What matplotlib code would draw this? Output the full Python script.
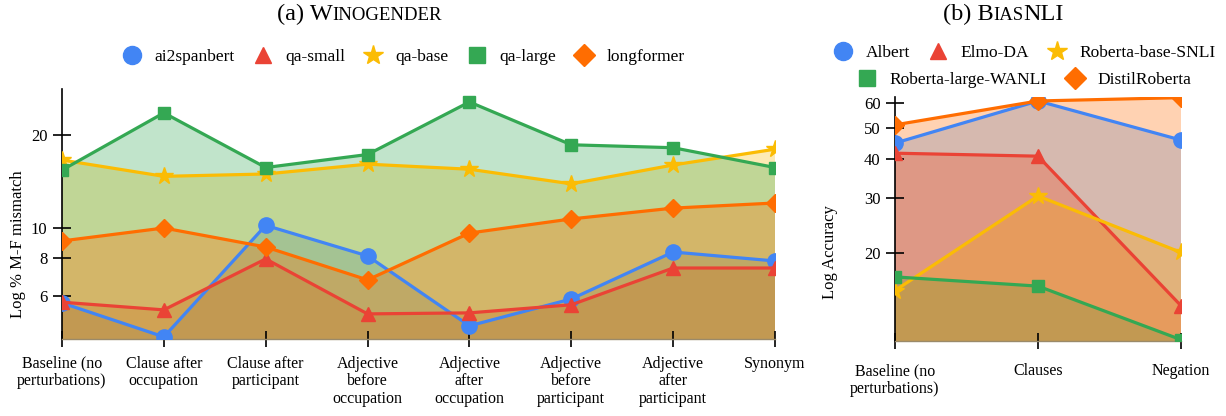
import matplotlib
matplotlib.use("Agg")
import matplotlib.pyplot as plt
from matplotlib.lines import Line2D
from matplotlib.ticker import FixedLocator, FixedFormatter, NullLocator

plt.rcParams["font.family"] = ["Liberation Serif", "DejaVu Serif"]

# (a) Winogender
wino_labels = ["Baseline (no\nperturbations)", "Clause after\noccupation", "Clause after\nparticipant",
               "Adjective\nbefore\noccupation", "Adjective\nafter\noccupation", "Adjective\nbefore\nparticipant",
               "Adjective\nafter\nparticipant", "Synonym"]
ai2spanbert = [5.72, 4.44, 10.2, 8.12, 4.82, 5.89, 8.36, 7.82]
qa_small = [5.75, 5.43, 7.94, 5.27, 5.31, 5.64, 7.42, 7.42]
qa_base = [16.6, 14.7, 14.96, 16.1, 15.5, 13.9, 16.0, 18.0]
qa_large = [15.4, 23.6, 15.7, 17.3, 25.6, 18.6, 18.2, 15.7]
longformer = [9.08, 10.0, 8.68, 6.79, 9.63, 10.7, 11.6, 12.05]
wino_ticks = [6, 8, 10, 20]

# (b) BiasNLI
nli_labels = ["Baseline (no\nperturbations)", "Clauses", "Negation"]
albert = [44.8, 61.0, 45.8]
elmo_da = [41.6, 40.7, 13.6]
roberta_base_snli = [15.2, 30.4, 20.1]
roberta_large_wanli = [16.8, 15.7, 10.6]
distilroberta = [51.2, 61.0, 62.5]
nli_ticks = [20, 30, 40, 50, 60]

colors = ["#4285F4", "#EA4335", "#FBBC04", "#34A853", "#FF6D01"]
markers = ["o", "^", "*", "s", "D"]
msizes = [11, 10, 13, 9, 9]


def draw_panel(ax, labels, series, ticks, ylim, ylabel, label_xy, xpad):
    x = list(range(len(labels)))
    ax.set_yscale("log")
    for vals, c in zip(series, colors):
        ax.fill_between(x, vals, 1e-3, color=c, alpha=0.3, linewidth=0)
    for vals, c, m, ms in zip(series, colors, markers, msizes):
        ax.plot(x, vals, color=c, lw=2.3, marker=m, markersize=ms, zorder=3)
    ax.set_xlim(0, len(labels) - 1)
    ax.set_ylim(*ylim)
    ax.yaxis.set_major_locator(FixedLocator(ticks))
    ax.yaxis.set_major_formatter(FixedFormatter([str(t) for t in ticks]))
    ax.yaxis.set_minor_locator(NullLocator())
    ax.set_xticks(x)
    ax.set_xticklabels(labels, fontsize=11.5, linespacing=1.15)
    ax.tick_params(axis="y", direction="inout", length=13, width=1.2, labelsize=12, pad=4)
    ax.tick_params(axis="x", direction="inout", length=12, width=1.2, pad=xpad)
    for s in ("top", "right"):
        ax.spines[s].set_visible(False)
    ax.spines["left"].set_linewidth(1.2)
    ax.spines["bottom"].set_color("#9a8a6a")
    ax.spines["bottom"].set_linewidth(1.0)
    ax.set_ylabel(ylabel, fontsize=12)
    ax.yaxis.set_label_coords(*label_xy)


def smallcaps_title(fig, x_start, y, parts, size_big=17.5, size_small=13.5):
    # parts: list of (text, is_big), laid out left to right on one baseline
    r = fig.canvas.get_renderer()
    x = x_start
    for txt, big in parts:
        t = fig.text(x, y, txt, fontsize=size_big if big else size_small, ha="left", va="baseline")
        x = t.get_window_extent(renderer=r).x1 / fig.bbox.width


def legend_handles(names, idx):
    return [Line2D([], [], linestyle="None", marker=markers[i], color=colors[i],
                   markersize=msizes[i] + 2, label=names[k]) for k, i in enumerate(idx)]


fig = plt.figure(figsize=(12.26, 4.16), dpi=100)
ax1 = fig.add_axes([62 / 1226, 77 / 416, 713 / 1226, 250 / 416])
ax2 = fig.add_axes([895 / 1226, 75 / 416, 286 / 1226, 244 / 416])

draw_panel(ax1, wino_labels, [ai2spanbert, qa_small, qa_base, qa_large, longformer],
           wino_ticks, (4.37, 28.2), "Log % M-F mismatch", (-0.05, 0.38), 6)
draw_panel(ax2, nli_labels, [albert, elmo_da, roberta_base_snli, roberta_large_wanli, distilroberta],
           nli_ticks, (10.5, 62.8), "Log Accuracy", (-0.2, 0.365), 10)

smallcaps_title(fig, 277 / 1226, 1 - 20 / 416, [("(a) W", True), ("INOGENDER", False)])
smallcaps_title(fig, 943 / 1226, 1 - 20 / 416, [("(b) B", True), ("IAS", False), ("NLI", True)])

leg_kw = dict(frameon=False, fontsize=12.5, handlelength=1.0, handletextpad=0.8,
              columnspacing=1.1, borderpad=0, borderaxespad=0)
fig.legend(handles=legend_handles(["ai2spanbert", "qa-small", "qa-base", "qa-large", "longformer"],
                                  [0, 1, 2, 3, 4]),
           loc="center", bbox_to_anchor=(404 / 1226, 1 - 57 / 416), ncol=5, **leg_kw)
fig.legend(handles=legend_handles(["Albert", "Elmo-DA", "Roberta-base-SNLI"], [0, 1, 2]),
           loc="center", bbox_to_anchor=(1025 / 1226, 1 - 53 / 416), ncol=3, **leg_kw)
fig.legend(handles=legend_handles(["Roberta-large-WANLI", "DistilRoberta"], [3, 4]),
           loc="center", bbox_to_anchor=(1025 / 1226, 1 - 80 / 416), ncol=2, **leg_kw)

fig.savefig("out.png", dpi=100)
